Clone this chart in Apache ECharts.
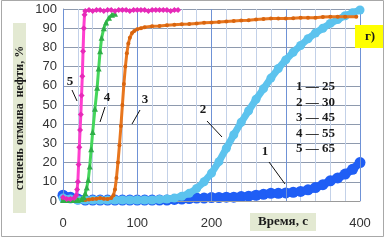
<!DOCTYPE html>
<html><head><meta charset="utf-8">
<script src="https://cdn.jsdelivr.net/npm/echarts@6/dist/echarts.min.js"></script>
<style>html,body{margin:0;padding:0;background:#fff}#c{width:385px;height:242px}</style>
</head><body><div id="c"></div>
<script>
// Series 1 (25) dark blue
const t1 = [0,10,20,30,40,50,60,70,80,90,100,110,120,130,140,150,160,170,180,190,200,210,220,230,240,250,260,270,280,290,300,310,320,330,340,350,360,370,380,390,400];
const v1 = [3,2,1,0.5,0.5,0.5,0.5,0.5,0.5,0.5,0.5,0.5,0.5,0.5,0.5,0.8,1,1.3,1.5,1.5,1.8,1.8,2,2,2.3,2.5,3,3.5,4,4,4.2,4.5,5,5.8,7,8.5,10.5,12,14,16.5,20];
// Series 2 (30) light blue
const t2 = [0,10,20,30,40,50,60,70,80,90,100,110,120,130,140,150,160,170,180,190,200,210,220,230,240,250,260,270,280,290,300,310,320,330,340,350,360,370,380,390,400];
const v2 = [1.5,1,0.5,0.5,0.5,0.5,0.5,0.5,0.5,0.5,0.5,0.5,0.5,0.8,1,1.5,2.5,4,6.5,10,14.5,20.5,27.5,34.5,41,47,53,58.5,64,69,73.5,77.5,81,84.5,87.5,90,92.5,94.5,96.5,98,99.5];
// Series 3 (45) orange
const t3 = [0,5,10,15,20,25,30,35,40,45,50,55,60,65,68,70,72,74,76,78,80,82,84,86,88,90,93,96,100,105,110,120,130,140,150,160,170,180,190,200,210,220,230,240,250,260,270,280,290,300,310,320,330,340,350,360,370,380,395];
const v3 = [1,1,1,0.8,0.5,0.5,0.5,0.8,1,1.2,1.5,1.2,1,1.5,3,6,12,20,29,39,50,61,70,77,82,85,87.5,88.5,89.5,90,90.5,91,91.2,91.5,91.8,92,92.2,92.5,92.8,93,93.2,93.5,93.8,94,94.2,94.5,94.8,95,95,95,95.2,95.5,95.5,95.5,95.8,96,96,96,96];
// Series 4 (55) green
const t4 = [0,5,10,15,20,25,28,30,32,34,36,38,40,43,46,48,50,52,55,58,62,66,70];
const v4 = [0.5,0.5,0.5,0.5,0.5,1,2,4,7,11,18,27,36,48,59,69,78,85,90,93,95.5,97,97.5];
// Series 5 (65) magenta
const t5 = [0,5,10,15,18,19,20,21,22,23,24,25,26,27,28,29,30,35,40,45,50,55,60,65,70,75,80,85,90,95,100,105,110,115,120,125,130,135,140,145,150,155];
const v5 = [2,1,1,1.5,3,6,10,19,28,37,45,55,65,78,90,97,99,99.5,99,99.5,99.5,99,99.5,99.5,99,99.5,99.5,99.5,99,99.5,99.5,99.5,99.5,99,99.5,99.5,99.5,99.5,99.5,99,99.5,99.5];
const yTicks = [0,10,20,30,40,50,60,70,80,90,100];
const xTicks = [0,100,200,400];
const legendLines = ['1 — 25','2 — 30','3 — 45','4 — 55','5 — 65'];
const curveLabels = ['5','4','3','2','1'];

const zip = (t,v) => t.map((x,i)=>[x,v[i]]);
const chart = echarts.init(document.getElementById('c'), null, {renderer:'canvas'});
const serif = 'Liberation Serif';
const sans = 'Liberation Sans';
function mk(name, t, v, color, lw, sym, ss, sc, z){
  return {name, type:'line', data:zip(t,v), xAxisIndex:0, yAxisIndex:0,
    lineStyle:{color, width:lw}, itemStyle:{color:sc||color}, symbol:sym, symbolSize:ss,
    showSymbol:true, animation:false, z:z, clip:false};
}
const labelPos = [[70,82],[107,98],[145,100],[203,110],[265,152]];
const leaders = [[72,90,77,101],[105,107,100,122],[140,110,132,124],[207,121,222,137],[269,162,285,184]];
const graphics = [
  {type:'rect', shape:{x:1.5,y:0.5,width:382,height:236}, style:{fill:'none', stroke:'#a8a8a8', lineWidth:1}, z:100},
  {type:'rect', shape:{x:13,y:23,width:13,height:190}, style:{fill:'#e3e9d2'}, z:50},
  {type:'text', x:19.5, y:118, rotation:Math.PI/2, style:{text:'степень отмыва  нефти, %', font:'bold 12px '+serif, fill:'#1a1a1a', align:'center', verticalAlign:'middle'}, z:51},
  {type:'rect', shape:{x:250,y:213,width:66,height:18}, style:{fill:'#e3e9d2'}, z:50},
  {type:'text', x:283, y:222, style:{text:'Время, с', font:'bold 13px '+serif, fill:'#1a1a1a', align:'center', verticalAlign:'middle'}, z:51},
  {type:'rect', shape:{x:355,y:25,width:28,height:23}, style:{fill:'#ffff00'}, z:50},
  {type:'text', x:370, y:37, style:{text:'г)', font:'bold 13px '+serif, fill:'#1a1a1a', align:'center', verticalAlign:'middle'}, z:51}
];
legendLines.forEach((s,i)=>{
  graphics.push({type:'text', x:296, y:87+i*15.5, style:{text:s, font:'bold 13px '+serif, fill:'#1a1a1a', align:'left', verticalAlign:'middle'}, z:60});
});
curveLabels.forEach((s,i)=>{
  graphics.push({type:'text', x:labelPos[i][0], y:labelPos[i][1], style:{text:s, font:'bold 13px '+serif, fill:'#1a1a1a', align:'center', verticalAlign:'middle'}, z:60});
  const l = leaders[i];
  graphics.push({type:'line', shape:{x1:l[0],y1:l[1],x2:l[2],y2:l[3]}, style:{stroke:'#111', lineWidth:1}, z:60});
});

chart.setOption({
  backgroundColor:'#ffffff',
  animation:false,
  grid:{left:63, right:25, top:9, bottom:41, containLabel:false},
  xAxis:[
    {type:'value', min:0, max:400, interval:100,
     axisLine:{show:true, lineStyle:{color:'#9a9a9a'}}, axisTick:{show:false},
     axisLabel:{margin:16, fontSize:13, fontFamily:sans, color:'#333',
       formatter:v=> xTicks.indexOf(v)>=0 ? String(v) : ''},
     splitLine:{show:true, lineStyle:{color:'#6f92d6', width:1}}, z:3},
    {type:'value', min:0, max:400, interval:20, position:'bottom',
     axisLine:{show:false}, axisTick:{show:false}, axisLabel:{show:false},
     splitLine:{show:true, lineStyle:{color:'#c3d1e8', width:1}}, z:1}
  ],
  yAxis:{type:'value', min:0, max:100, interval:10,
    axisLine:{show:true, lineStyle:{color:'#9a9a9a'}}, axisTick:{show:false},
    axisLabel:{margin:6, fontSize:13, fontFamily:sans, color:'#333',
      formatter:v=> yTicks.indexOf(v)>=0 ? String(v) : ''},
    splitLine:{show:true, lineStyle:{color:'#8e9aae', width:1}}},
  series:[
    mk('1', t1, v1, '#1f5ef5', 8, 'circle', 11, '#1f5ef5', 2),
    mk('2', t2, v2, '#5cc3ee', 7, 'circle', 9, '#5cc3ee', 3),
    mk('3', t3, v3, '#e8761e', 3, 'circle', 4, '#d8650f', 4),
    mk('4', t4, v4, '#45d65c', 3, 'triangle', 6, '#2fae48', 5),
    mk('5', t5, v5, '#ff3fcf', 3, 'diamond', 6, '#e62ab8', 6)
  ],
  graphic:graphics
});
</script></body></html>
